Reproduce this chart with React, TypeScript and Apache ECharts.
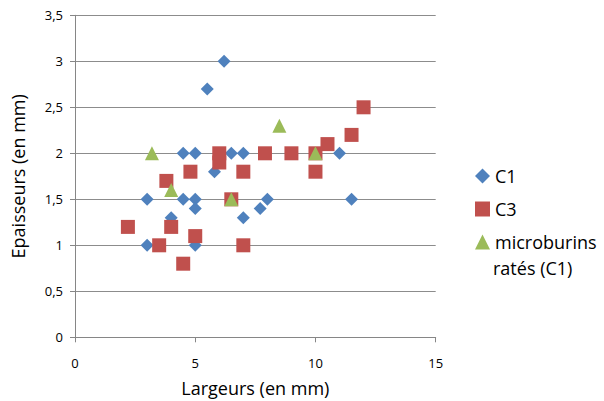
import React, { useEffect, useRef } from "react";
import * as echarts from "echarts";

const c1: [number, number][] = [
  [3, 1], [3, 1.5], [4, 1.3], [4.5, 1.5], [4.5, 2], [5, 2], [5, 1.5], [5, 1.4], [5, 1],
  [5.5, 2.7], [5.8, 1.8], [6.2, 3], [6.5, 2], [7, 2], [7, 1.3], [7.7, 1.4], [8, 1.5],
  [11, 2], [11.5, 1.5],
];
const c3: [number, number][] = [
  [2.2, 1.2], [3.5, 1], [3.8, 1.7], [4, 1.2], [4.5, 0.8], [4.8, 1.8], [5, 1.1], [6, 2],
  [6, 1.9], [6.5, 1.5], [7, 1.8], [7, 1], [7.9, 2], [9, 2], [10, 2], [10, 1.8],
  [10.5, 2.1], [11.5, 2.2], [12, 2.5],
];
const micro: [number, number][] = [
  [3.2, 2], [4, 1.6], [6.5, 1.5], [8.5, 2.3], [10, 2],
];
const seriesNames = ["C1", "C3", "microburins ratés (C1)"];
const legendLines = ["microburins", "ratés (C1)"];
const xTitle = "Largeurs (en mm)";
const yTitle = "Epaisseurs (en mm)";

const FONT = "Open Sans";

export default function App() {
  const ref = useRef<HTMLDivElement>(null);
  useEffect(() => {
    const chart = echarts.init(ref.current!, null, { renderer: "svg" });
    chart.setOption({
      animation: false,
      textStyle: { fontFamily: FONT },
      grid: {
        left: 75,
        top: 15.3,
        width: 360.7,
        height: 322,
        containLabel: false,
        outerBoundsMode: "none",
      },
      legend: {
        orient: "vertical",
        left: 470,
        top: 161,
        itemWidth: 15,
        itemHeight: 15,
        itemGap: 13,
        itemTextGap: 8,
        textStyle: { fontSize: 18, color: "#000", fontFamily: FONT, lineHeight: 20 },
        formatter: (name: string) => (name === seriesNames[2] ? legendLines[0] : name),
        data: [
          { name: seriesNames[0], icon: "diamond" },
          { name: seriesNames[1], icon: "rect" },
          { name: seriesNames[2], icon: "triangle" },
        ],
      },
      graphic: [
        {
          type: "text",
          left: 493,
          top: 259,
          style: { text: legendLines[1], fontSize: 18, fontFamily: FONT, fill: "#000" },
        },
      ],
      xAxis: {
        type: "value",
        min: 0,
        max: 15,
        interval: 5,
        name: xTitle,
        nameLocation: "middle",
        nameGap: 42,
        nameTextStyle: { fontSize: 18, color: "#000", fontFamily: FONT },
        axisLine: { show: true, lineStyle: { color: "#868686", width: 1 } },
        axisTick: { show: true, length: 5, lineStyle: { color: "#868686" } },
        axisLabel: { fontSize: 13, color: "#000", margin: 19, fontFamily: FONT },
        splitLine: { show: false },
      },
      yAxis: {
        type: "value",
        min: 0,
        max: 3.5,
        interval: 0.5,
        name: yTitle,
        nameLocation: "middle",
        nameGap: 48,
        nameTextStyle: { fontSize: 18, color: "#000", fontFamily: FONT },
        axisLine: { show: true, lineStyle: { color: "#868686", width: 1 } },
        axisTick: { show: true, length: 5, lineStyle: { color: "#868686" } },
        axisLabel: {
          fontSize: 13,
          color: "#000",
          margin: 12,
          fontFamily: FONT,
          formatter: (v: number) => String(v).replace(".", ","),
        },
        splitLine: { show: true, lineStyle: { color: "#8c8c8c", width: 1 } },
      },
      series: [
        {
          name: seriesNames[0],
          type: "scatter",
          symbol: "diamond",
          symbolSize: 13,
          itemStyle: { color: "#4F81BD", opacity: 1 },
          data: c1,
        },
        {
          name: seriesNames[1],
          type: "scatter",
          symbol: "rect",
          symbolSize: 14,
          itemStyle: { color: "#C0504D", opacity: 1 },
          data: c3,
        },
        {
          name: seriesNames[2],
          type: "scatter",
          symbol: "triangle",
          symbolSize: 14,
          itemStyle: { color: "#9BBB59", opacity: 1 },
          data: micro,
        },
      ],
    });
    return () => chart.dispose();
  }, []);
  return <div ref={ref} style={{ width: 604, height: 401, position: "absolute", left: 0, top: 0 }} />;
}
